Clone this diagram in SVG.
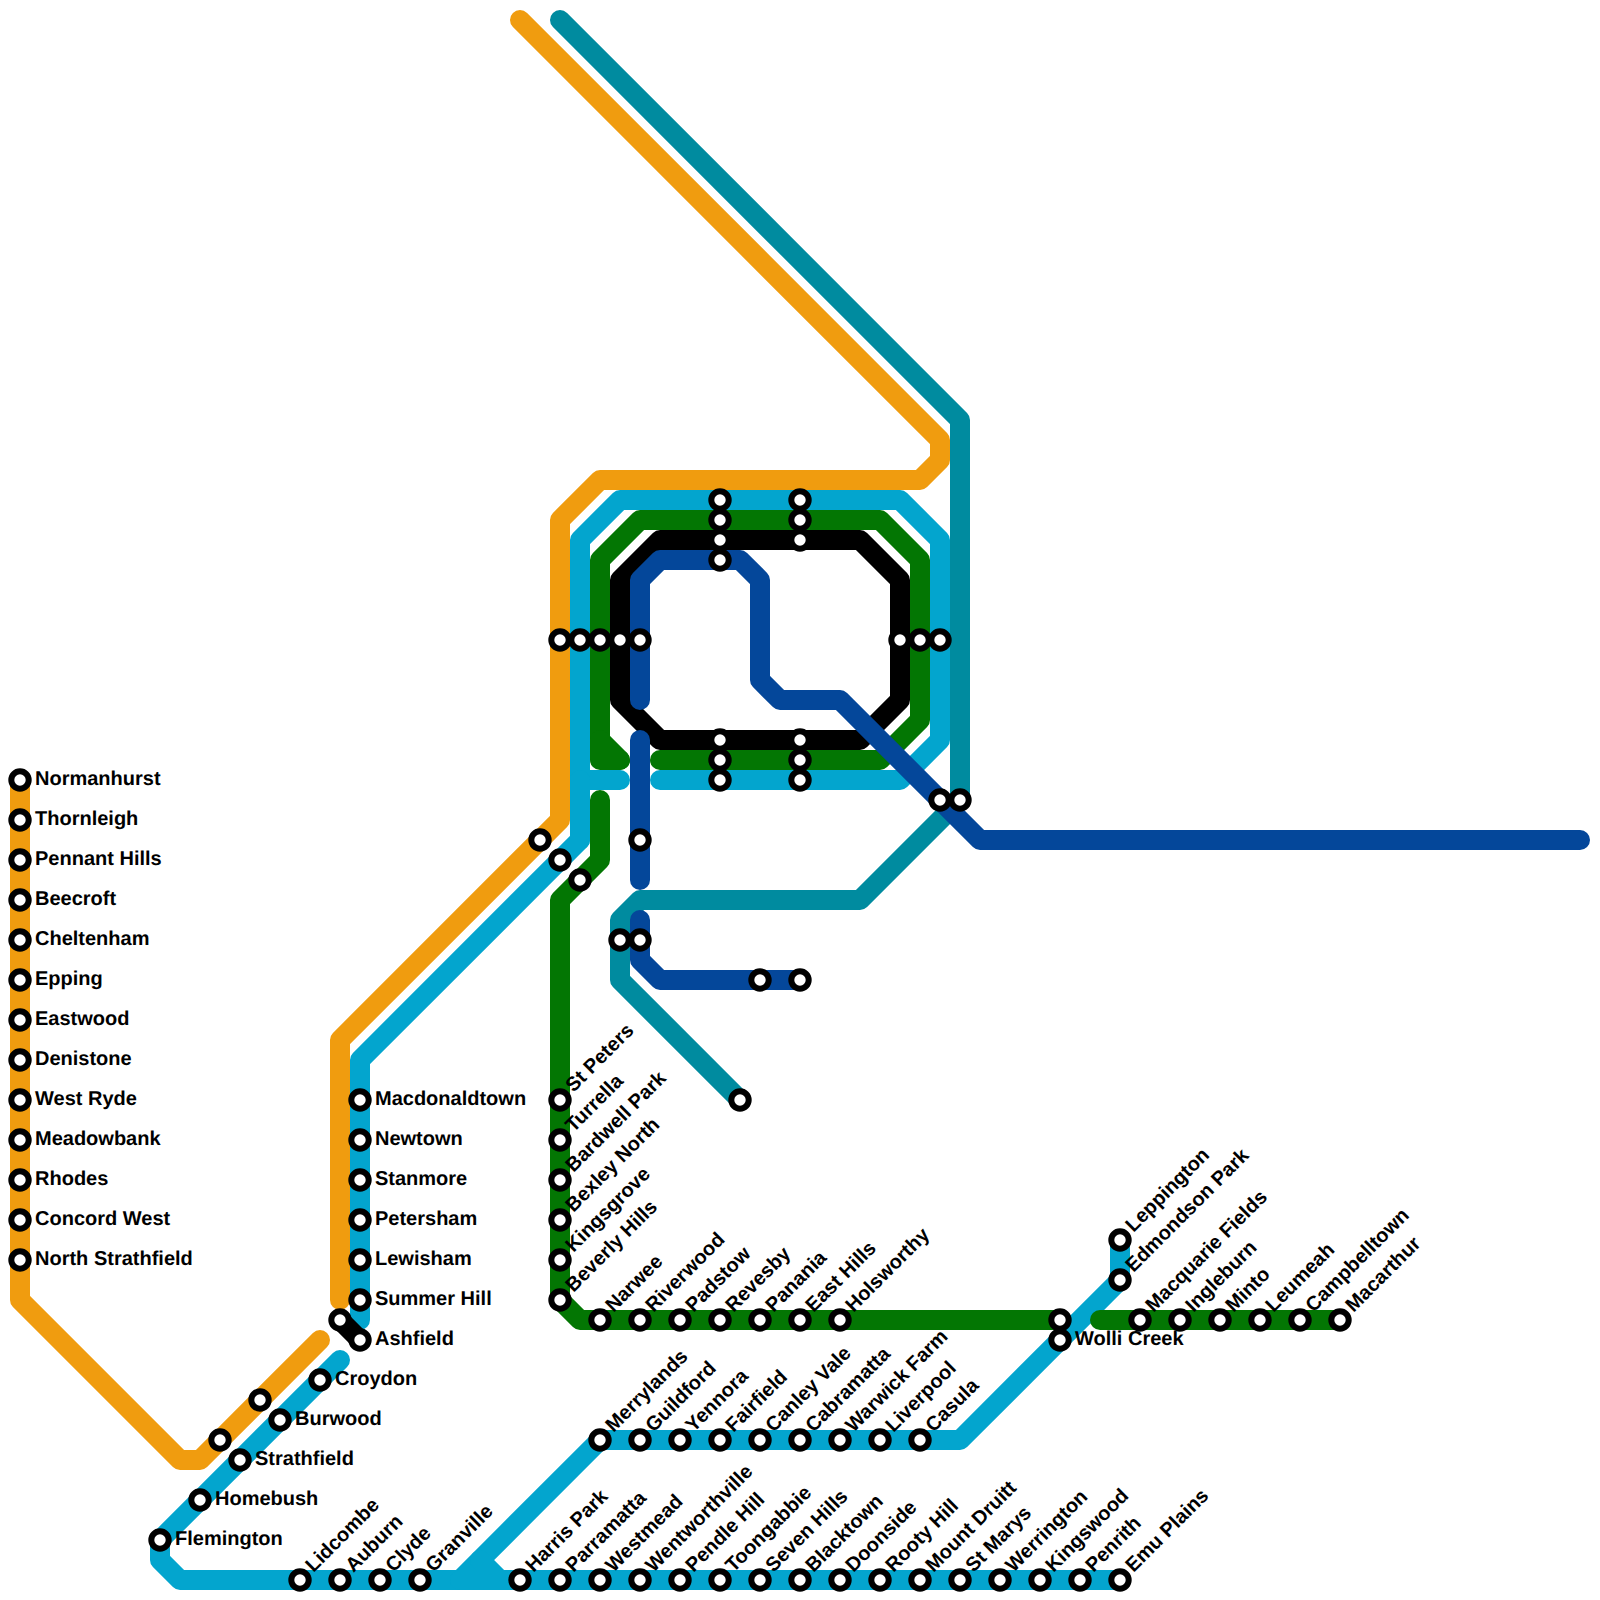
<svg xmlns="http://www.w3.org/2000/svg" width="1600" height="1600" viewBox="0 0 1600 1600">
<style>
.l{fill:none;stroke-width:20;stroke-linecap:round;stroke-linejoin:round}
.or{stroke:#f09c0f}.lb{stroke:#03a5ce}.gr{stroke:#037603}.bk{stroke:#000}.te{stroke:#008b9f}.db{stroke:#04479a}
.s{fill:#fff;stroke:#000;stroke-width:6}
text{font-family:"Liberation Sans",Arial,sans-serif;font-weight:700;font-size:20px;fill:#000;text-rendering:geometricPrecision}
</style>
<rect width="1600" height="1600" fill="#fff"/>
<g id="connectors">
<path class="l or" d="M20 780V1300L180 1460H200L320 1340"/>
<path class="l or" d="M340 1300V1040L560 820V520L600 480H920L940 460V440L520 20"/>
<path class="l lb" d="M580 780H620M580 840V540L620 500H900L940 540V740L900 780H660"/>
<path class="l lb" d="M580 780V840L360 1060V1320"/>
<path class="l lb" d="M340 1360L160 1540V1560L180 1580H460L600 1440H960L1120 1280V1240"/>
<path class="l lb" d="M460 1580H500L480 1560M500 1580H1120"/>
<path class="l gr" d="M620 760L600 740V560L640 520H880L920 560V720L880 760H660"/>
<path class="l gr" d="M600 740V760H620"/>
<path class="l gr" d="M600 800V860L560 900V1300L580 1320H1060"/>
<path class="l gr" d="M1100 1320H1340"/>
<path class="l bk" d="M660 740L620 700V580L660 540H860L900 580V700L860 740Z"/>
<path class="l te" d="M560 20L960 420V800L860 900H640L620 920V980L740 1100"/>
<path class="l db" d="M640 700V580L660 560H740L760 580V680L780 700H840L980 840H1580"/>
<path class="l db" d="M640 740V880"/>
<path class="l db" d="M640 920V960L660 980H800"/>
<path class="l bk" d="M340 1320L360 1340"/>
</g>
<g id="nodes">
<g id="n-normanhurst"><circle class="s" cx="20" cy="780" r="8.7"/><text x="35" y="785">Normanhurst</text></g>
<g id="n-thornleigh"><circle class="s" cx="20" cy="820" r="8.7"/><text x="35" y="825">Thornleigh</text></g>
<g id="n-pennant-hills"><circle class="s" cx="20" cy="860" r="8.7"/><text x="35" y="865">Pennant Hills</text></g>
<g id="n-beecroft"><circle class="s" cx="20" cy="900" r="8.7"/><text x="35" y="905">Beecroft</text></g>
<g id="n-cheltenham"><circle class="s" cx="20" cy="940" r="8.7"/><text x="35" y="945">Cheltenham</text></g>
<g id="n-epping"><circle class="s" cx="20" cy="980" r="8.7"/><text x="35" y="985">Epping</text></g>
<g id="n-eastwood"><circle class="s" cx="20" cy="1020" r="8.7"/><text x="35" y="1025">Eastwood</text></g>
<g id="n-denistone"><circle class="s" cx="20" cy="1060" r="8.7"/><text x="35" y="1065">Denistone</text></g>
<g id="n-west-ryde"><circle class="s" cx="20" cy="1100" r="8.7"/><text x="35" y="1105">West Ryde</text></g>
<g id="n-meadowbank"><circle class="s" cx="20" cy="1140" r="8.7"/><text x="35" y="1145">Meadowbank</text></g>
<g id="n-rhodes"><circle class="s" cx="20" cy="1180" r="8.7"/><text x="35" y="1185">Rhodes</text></g>
<g id="n-concord-west"><circle class="s" cx="20" cy="1220" r="8.7"/><text x="35" y="1225">Concord West</text></g>
<g id="n-north-strathfield"><circle class="s" cx="20" cy="1260" r="8.7"/><text x="35" y="1265">North Strathfield</text></g>
<g id="n-macdonaldtown"><circle class="s" cx="360" cy="1100" r="8.7"/><text x="375" y="1105">Macdonaldtown</text></g>
<g id="n-newtown"><circle class="s" cx="360" cy="1140" r="8.7"/><text x="375" y="1145">Newtown</text></g>
<g id="n-stanmore"><circle class="s" cx="360" cy="1180" r="8.7"/><text x="375" y="1185">Stanmore</text></g>
<g id="n-petersham"><circle class="s" cx="360" cy="1220" r="8.7"/><text x="375" y="1225">Petersham</text></g>
<g id="n-lewisham"><circle class="s" cx="360" cy="1260" r="8.7"/><text x="375" y="1265">Lewisham</text></g>
<g id="n-summer-hill"><circle class="s" cx="360" cy="1300" r="8.7"/><text x="375" y="1305">Summer Hill</text></g>
<g id="n-ashfield"><circle class="s" cx="360" cy="1340" r="8.7"/><text x="375" y="1345">Ashfield</text></g>
<g id="n-x340"><circle class="s" cx="340" cy="1320" r="8.7"/></g>
<g id="n-croydon"><circle class="s" cx="320" cy="1380" r="8.7"/><text x="335" y="1385">Croydon</text></g>
<g id="n-burwood"><circle class="s" cx="280" cy="1420" r="8.7"/><text x="295" y="1425">Burwood</text></g>
<g id="n-strathfield"><circle class="s" cx="240" cy="1460" r="8.7"/><text x="255" y="1465">Strathfield</text></g>
<g id="n-homebush"><circle class="s" cx="200" cy="1500" r="8.7"/><text x="215" y="1505">Homebush</text></g>
<g id="n-flemington"><circle class="s" cx="160" cy="1540" r="8.7"/><text x="175" y="1545">Flemington</text></g>
<g id="n-x260"><circle class="s" cx="260" cy="1400" r="8.7"/></g>
<g id="n-x220"><circle class="s" cx="220" cy="1440" r="8.7"/></g>
<g id="n-lidcombe"><circle class="s" cx="300" cy="1580" r="8.7"/><text transform="translate(313.5 1573) rotate(-45)">Lidcombe</text></g>
<g id="n-auburn"><circle class="s" cx="340" cy="1580" r="8.7"/><text transform="translate(353.5 1573) rotate(-45)">Auburn</text></g>
<g id="n-clyde"><circle class="s" cx="380" cy="1580" r="8.7"/><text transform="translate(393.5 1573) rotate(-45)">Clyde</text></g>
<g id="n-granville"><circle class="s" cx="420" cy="1580" r="8.7"/><text transform="translate(433.5 1573) rotate(-45)">Granville</text></g>
<g id="n-harris-park"><circle class="s" cx="520" cy="1580" r="8.7"/><text transform="translate(533.5 1573) rotate(-45)">Harris Park</text></g>
<g id="n-parramatta"><circle class="s" cx="560" cy="1580" r="8.7"/><text transform="translate(573.5 1573) rotate(-45)">Parramatta</text></g>
<g id="n-westmead"><circle class="s" cx="600" cy="1580" r="8.7"/><text transform="translate(613.5 1573) rotate(-45)">Westmead</text></g>
<g id="n-wentworthville"><circle class="s" cx="640" cy="1580" r="8.7"/><text transform="translate(653.5 1573) rotate(-45)">Wentworthville</text></g>
<g id="n-pendle-hill"><circle class="s" cx="680" cy="1580" r="8.7"/><text transform="translate(693.5 1573) rotate(-45)">Pendle Hill</text></g>
<g id="n-toongabbie"><circle class="s" cx="720" cy="1580" r="8.7"/><text transform="translate(733.5 1573) rotate(-45)">Toongabbie</text></g>
<g id="n-seven-hills"><circle class="s" cx="760" cy="1580" r="8.7"/><text transform="translate(773.5 1573) rotate(-45)">Seven Hills</text></g>
<g id="n-blacktown"><circle class="s" cx="800" cy="1580" r="8.7"/><text transform="translate(813.5 1573) rotate(-45)">Blacktown</text></g>
<g id="n-doonside"><circle class="s" cx="840" cy="1580" r="8.7"/><text transform="translate(853.5 1573) rotate(-45)">Doonside</text></g>
<g id="n-rooty-hill"><circle class="s" cx="880" cy="1580" r="8.7"/><text transform="translate(893.5 1573) rotate(-45)">Rooty Hill</text></g>
<g id="n-mount-druitt"><circle class="s" cx="920" cy="1580" r="8.7"/><text transform="translate(933.5 1573) rotate(-45)">Mount Druitt</text></g>
<g id="n-st-marys"><circle class="s" cx="960" cy="1580" r="8.7"/><text transform="translate(973.5 1573) rotate(-45)">St Marys</text></g>
<g id="n-werrington"><circle class="s" cx="1000" cy="1580" r="8.7"/><text transform="translate(1013.5 1573) rotate(-45)">Werrington</text></g>
<g id="n-kingswood"><circle class="s" cx="1040" cy="1580" r="8.7"/><text transform="translate(1053.5 1573) rotate(-45)">Kingswood</text></g>
<g id="n-penrith"><circle class="s" cx="1080" cy="1580" r="8.7"/><text transform="translate(1093.5 1573) rotate(-45)">Penrith</text></g>
<g id="n-emu-plains"><circle class="s" cx="1120" cy="1580" r="8.7"/><text transform="translate(1133.5 1573) rotate(-45)">Emu Plains</text></g>
<g id="n-merrylands"><circle class="s" cx="600" cy="1440" r="8.7"/><text transform="translate(613.5 1433) rotate(-45)">Merrylands</text></g>
<g id="n-guildford"><circle class="s" cx="640" cy="1440" r="8.7"/><text transform="translate(653.5 1433) rotate(-45)">Guildford</text></g>
<g id="n-yennora"><circle class="s" cx="680" cy="1440" r="8.7"/><text transform="translate(693.5 1433) rotate(-45)">Yennora</text></g>
<g id="n-fairfield"><circle class="s" cx="720" cy="1440" r="8.7"/><text transform="translate(733.5 1433) rotate(-45)">Fairfield</text></g>
<g id="n-canley-vale"><circle class="s" cx="760" cy="1440" r="8.7"/><text transform="translate(773.5 1433) rotate(-45)">Canley Vale</text></g>
<g id="n-cabramatta"><circle class="s" cx="800" cy="1440" r="8.7"/><text transform="translate(813.5 1433) rotate(-45)">Cabramatta</text></g>
<g id="n-warwick-farm"><circle class="s" cx="840" cy="1440" r="8.7"/><text transform="translate(853.5 1433) rotate(-45)">Warwick Farm</text></g>
<g id="n-liverpool"><circle class="s" cx="880" cy="1440" r="8.7"/><text transform="translate(893.5 1433) rotate(-45)">Liverpool</text></g>
<g id="n-casula"><circle class="s" cx="920" cy="1440" r="8.7"/><text transform="translate(933.5 1433) rotate(-45)">Casula</text></g>
<g id="n-narwee"><circle class="s" cx="600" cy="1320" r="8.7"/><text transform="translate(613.5 1313) rotate(-45)">Narwee</text></g>
<g id="n-riverwood"><circle class="s" cx="640" cy="1320" r="8.7"/><text transform="translate(653.5 1313) rotate(-45)">Riverwood</text></g>
<g id="n-padstow"><circle class="s" cx="680" cy="1320" r="8.7"/><text transform="translate(693.5 1313) rotate(-45)">Padstow</text></g>
<g id="n-revesby"><circle class="s" cx="720" cy="1320" r="8.7"/><text transform="translate(733.5 1313) rotate(-45)">Revesby</text></g>
<g id="n-panania"><circle class="s" cx="760" cy="1320" r="8.7"/><text transform="translate(773.5 1313) rotate(-45)">Panania</text></g>
<g id="n-east-hills"><circle class="s" cx="800" cy="1320" r="8.7"/><text transform="translate(813.5 1313) rotate(-45)">East Hills</text></g>
<g id="n-holsworthy"><circle class="s" cx="840" cy="1320" r="8.7"/><text transform="translate(853.5 1313) rotate(-45)">Holsworthy</text></g>
<g id="n-x1060"><circle class="s" cx="1060" cy="1320" r="8.7"/></g>
<g id="n-wolli-creek"><circle class="s" cx="1060" cy="1340" r="8.7"/><text x="1075" y="1345">Wolli Creek</text></g>
<g id="n-macquarie-fields"><circle class="s" cx="1140" cy="1320" r="8.7"/><text transform="translate(1153.5 1313) rotate(-45)">Macquarie Fields</text></g>
<g id="n-ingleburn"><circle class="s" cx="1180" cy="1320" r="8.7"/><text transform="translate(1193.5 1313) rotate(-45)">Ingleburn</text></g>
<g id="n-minto"><circle class="s" cx="1220" cy="1320" r="8.7"/><text transform="translate(1233.5 1313) rotate(-45)">Minto</text></g>
<g id="n-leumeah"><circle class="s" cx="1260" cy="1320" r="8.7"/><text transform="translate(1273.5 1313) rotate(-45)">Leumeah</text></g>
<g id="n-campbelltown"><circle class="s" cx="1300" cy="1320" r="8.7"/><text transform="translate(1313.5 1313) rotate(-45)">Campbelltown</text></g>
<g id="n-macarthur"><circle class="s" cx="1340" cy="1320" r="8.7"/><text transform="translate(1353.5 1313) rotate(-45)">Macarthur</text></g>
<g id="n-leppington"><circle class="s" cx="1120" cy="1240" r="8.7"/><text transform="translate(1133.5 1233) rotate(-45)">Leppington</text></g>
<g id="n-edmondson-park"><circle class="s" cx="1120" cy="1280" r="8.7"/><text transform="translate(1133.5 1273) rotate(-45)">Edmondson Park</text></g>
<g id="n-st-peters"><circle class="s" cx="560" cy="1100" r="8.7"/><text transform="translate(573.5 1093) rotate(-45)">St Peters</text></g>
<g id="n-turrella"><circle class="s" cx="560" cy="1140" r="8.7"/><text transform="translate(573.5 1133) rotate(-45)">Turrella</text></g>
<g id="n-bardwell-park"><circle class="s" cx="560" cy="1180" r="8.7"/><text transform="translate(573.5 1173) rotate(-45)">Bardwell Park</text></g>
<g id="n-bexley-north"><circle class="s" cx="560" cy="1220" r="8.7"/><text transform="translate(573.5 1213) rotate(-45)">Bexley North</text></g>
<g id="n-kingsgrove"><circle class="s" cx="560" cy="1260" r="8.7"/><text transform="translate(573.5 1253) rotate(-45)">Kingsgrove</text></g>
<g id="n-beverly-hills"><circle class="s" cx="560" cy="1300" r="8.7"/><text transform="translate(573.5 1293) rotate(-45)">Beverly Hills</text></g>
<g id="n-h01"><circle class="s" cx="560" cy="640" r="8.7"/></g>
<g id="n-h02"><circle class="s" cx="580" cy="640" r="8.7"/></g>
<g id="n-h03"><circle class="s" cx="600" cy="640" r="8.7"/></g>
<g id="n-h04"><circle class="s" cx="620" cy="640" r="8.7"/></g>
<g id="n-h05"><circle class="s" cx="640" cy="640" r="8.7"/></g>
<g id="n-h06"><circle class="s" cx="900" cy="640" r="8.7"/></g>
<g id="n-h07"><circle class="s" cx="920" cy="640" r="8.7"/></g>
<g id="n-h08"><circle class="s" cx="940" cy="640" r="8.7"/></g>
<g id="n-h09"><circle class="s" cx="720" cy="500" r="8.7"/></g>
<g id="n-h10"><circle class="s" cx="720" cy="520" r="8.7"/></g>
<g id="n-h11"><circle class="s" cx="720" cy="540" r="8.7"/></g>
<g id="n-h12"><circle class="s" cx="720" cy="560" r="8.7"/></g>
<g id="n-h13"><circle class="s" cx="800" cy="500" r="8.7"/></g>
<g id="n-h14"><circle class="s" cx="800" cy="520" r="8.7"/></g>
<g id="n-h15"><circle class="s" cx="800" cy="540" r="8.7"/></g>
<g id="n-h16"><circle class="s" cx="720" cy="740" r="8.7"/></g>
<g id="n-h17"><circle class="s" cx="720" cy="760" r="8.7"/></g>
<g id="n-h18"><circle class="s" cx="720" cy="780" r="8.7"/></g>
<g id="n-h19"><circle class="s" cx="800" cy="740" r="8.7"/></g>
<g id="n-h20"><circle class="s" cx="800" cy="760" r="8.7"/></g>
<g id="n-h21"><circle class="s" cx="800" cy="780" r="8.7"/></g>
<g id="n-h22"><circle class="s" cx="940" cy="800" r="8.7"/></g>
<g id="n-h23"><circle class="s" cx="960" cy="800" r="8.7"/></g>
<g id="n-h24"><circle class="s" cx="540" cy="840" r="8.7"/></g>
<g id="n-h25"><circle class="s" cx="560" cy="860" r="8.7"/></g>
<g id="n-h26"><circle class="s" cx="580" cy="880" r="8.7"/></g>
<g id="n-h27"><circle class="s" cx="640" cy="840" r="8.7"/></g>
<g id="n-h28"><circle class="s" cx="620" cy="940" r="8.7"/></g>
<g id="n-h29"><circle class="s" cx="640" cy="940" r="8.7"/></g>
<g id="n-h30"><circle class="s" cx="760" cy="980" r="8.7"/></g>
<g id="n-h31"><circle class="s" cx="800" cy="980" r="8.7"/></g>
<g id="n-h32"><circle class="s" cx="740" cy="1100" r="8.7"/></g>
</g>
</svg>
